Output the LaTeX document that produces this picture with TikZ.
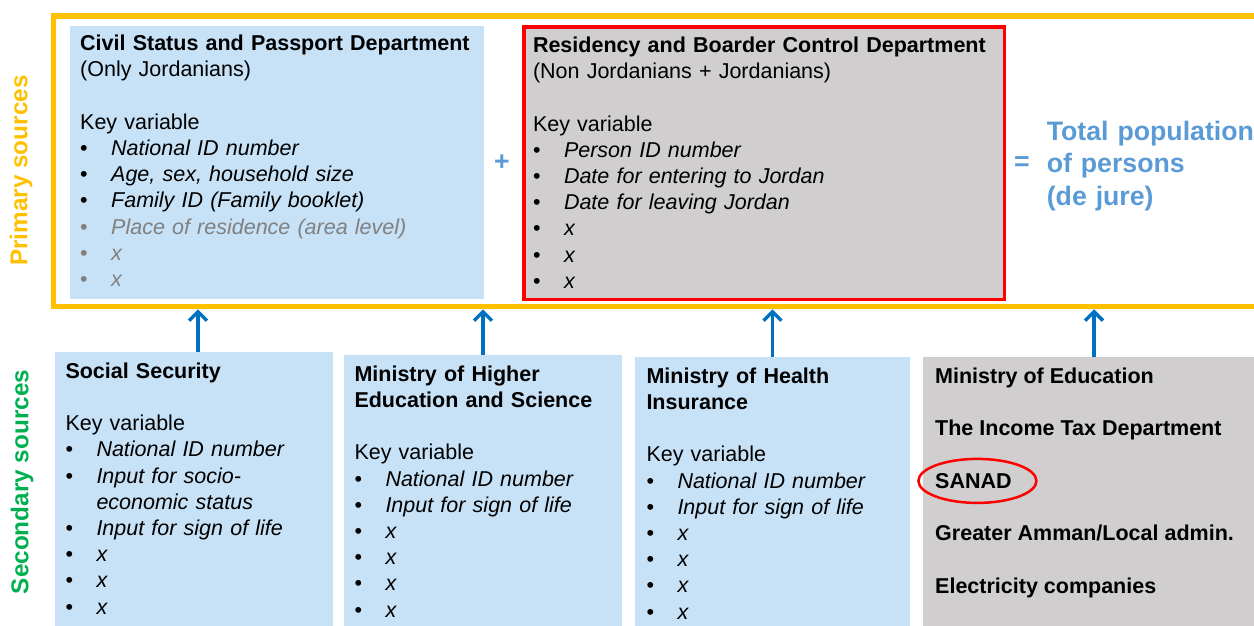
\documentclass[tikz,border=0pt]{standalone}
\usepackage{fontspec}
\setmainfont{Liberation Sans}
\usetikzlibrary{positioning,shapes.geometric,arrows.meta}

\definecolor{frameorange}{RGB}{255,192,0}
\definecolor{paleblue}{RGB}{199,225,246}
\definecolor{palegrey}{RGB}{208,206,206}
\definecolor{totalblue}{RGB}{91,155,213}
\definecolor{arrowblue}{RGB}{0,112,192}
\definecolor{secgreen}{RGB}{0,176,80}
\definecolor{midgrey}{RGB}{128,128,128}

\newcommand{\bodyfont}{\fontsize{21.5}{26.2}\selectfont}
\newcommand{\bigfont}{\fontsize{26.7}{32.5}\selectfont\bfseries}
\newcommand{\itm}[1]{\makebox[31pt][l]{\textbullet}\textit{#1}}
\newcommand{\gitm}[1]{{\color{midgrey}\itm{#1}}}

\tikzset{
  box/.style={anchor=north west, inner sep=0pt, outer sep=0pt},
  bluebox/.style={box, fill=paleblue},
  greybox/.style={box, fill=palegrey},
  txt/.style={anchor=base west, inner sep=0pt, text width=#1, align=left, font=\bodyfont},
  txt/.default=270pt,
  head/.style={anchor=base west, inner sep=0pt, font=\bodyfont\bfseries},
  side/.style={rotate=90, inner sep=0pt, font=\fontsize{24.3}{28}\selectfont\bfseries},
  feed/.style={draw=arrowblue, line width=3.5pt, -{Straight Barb[length=9pt,width=18pt]}},
}

\begin{document}
\begin{tikzpicture}[x=1pt,y=-1pt]
  \useasboundingbox (0,0) rectangle (1254,625);

  % primary sources
  \node[draw=frameorange, line width=5.5pt, inner sep=0pt, outer sep=2.75pt,
        minimum width=1246.5pt, minimum height=290.5pt] (primary) at (676.75,161.25) {};
  \node[side, text=frameorange] (primlabel) at (21,170.5) {Primary sources};

  \node[bluebox, minimum width=414pt, minimum height=273pt] (civil) at (70,26) {};
  \node[greybox, draw=red, line width=3.5pt, minimum width=480.5pt, minimum height=272.5pt] (border) at (523.75,26.75) {};

  \node[txt=400pt] (civiltxt) at (80,50.7) {\textbf{Civil Status and Passport Department}\\
    (Only Jordanians)\\[26.2pt]
    Key variable\\
    \itm{National ID number}\\
    \itm{Age, sex, household size}\\
    \itm{Family ID (Family booklet)}\\
    \gitm{Place of residence (area level)}\\
    \gitm{x}\\
    \gitm{x}};
  \node[txt=465pt] (bordertxt) at (532.8,52.4) {\textbf{Residency and Boarder Control Department}\\
    (Non Jordanians + Jordanians)\\[26.2pt]
    Key variable\\
    \itm{Person ID number}\\
    \itm{Date for entering to Jordan}\\
    \itm{Date for leaving Jordan}\\
    \itm{x}\\
    \itm{x}\\
    \itm{x}};

  \node[inner sep=0pt, font=\bigfont, text=totalblue] (plus) at (502,162.7) {+};
  \node[inner sep=0pt, font=\bigfont, text=totalblue] (equals) at (1022,164) {=};
  \node[anchor=base west, inner sep=0pt, text width=260pt, align=left, font=\bigfont,
        text=totalblue] (total) at (1046.6,140) {Total population\\of persons\\(de jure)};

  % secondary sources
  \node[side, text=secgreen] (seclabel) at (22,482) {Secondary sources};

  \node[bluebox, minimum width=278pt, minimum height=280pt] (social) at (55,352) {};
  \node[bluebox, minimum width=278pt, minimum height=280pt] (higher) at (344,355) {};
  \node[bluebox, minimum width=275pt, minimum height=280pt] (health) at (635,357) {};
  \node[greybox, minimum width=342pt, minimum height=280pt] (others) at (923,357) {};

  \node[txt] (socialtxt) at (65.3,378.3) {\textbf{Social Security}\\[26.2pt]
    Key variable\\
    \itm{National ID number}\\
    \itm{Input for socio-}\\
    \hspace*{31pt}\textit{economic status}\\
    \itm{Input for sign of life}\\
    \itm{x}\\
    \itm{x}\\
    \itm{x}};
  \node[txt] (highertxt) at (354.3,381.3) {\textbf{Ministry of Higher}\\
    \textbf{Education and Science}\\[26.2pt]
    Key variable\\
    \itm{National ID number}\\
    \itm{Input for sign of life}\\
    \itm{x}\\
    \itm{x}\\
    \itm{x}\\
    \itm{x}};
  \node[txt] (healthtxt) at (646.3,383.3) {\textbf{Ministry of Health}\\
    \textbf{Insurance}\\[26.2pt]
    Key variable\\
    \itm{National ID number}\\
    \itm{Input for sign of life}\\
    \itm{x}\\
    \itm{x}\\
    \itm{x}\\
    \itm{x}};

  \foreach \name/\txt [count=\i from 0] in {edu/Ministry of Education,
      tax/The Income Tax Department, sanad/SANAD,
      amman/{Greater Amman/Local admin.}, power/Electricity companies}
    \node[head] (\name) at (935,383.3+52.5*\i) {\txt};
  \node[ellipse, draw=red, line width=2.5pt, inner sep=0pt,
        minimum width=118pt, minimum height=44pt] (ring) at ([xshift=4pt]sanad.center) {};

  % feeds into the primary frame
  \draw[feed] ([xshift=4pt]social.north) -- ([xshift=4pt]social.north |- primary.south);
  \foreach \src in {higher,health,others}
    \draw[feed] (\src.north) -- (\src.north |- primary.south);
\end{tikzpicture}
\end{document}
